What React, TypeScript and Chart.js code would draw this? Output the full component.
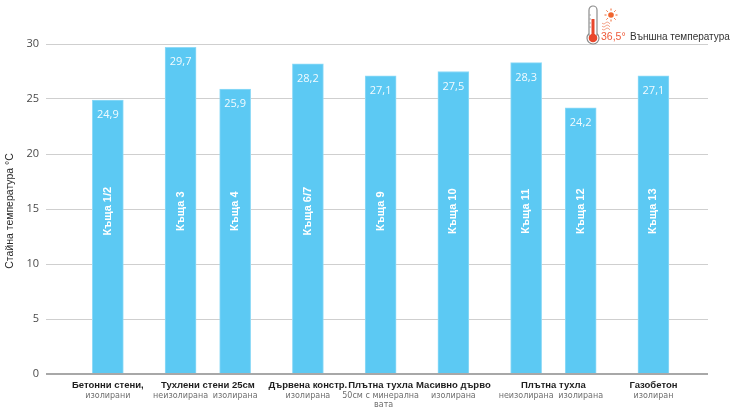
import React, { useEffect, useRef } from 'react';
import { Chart, registerables } from 'chart.js';

Chart.register(...registerables);

// data
const houses = ['Къща 1/2', 'Къща 3', 'Къща 4', 'Къща 6/7', 'Къща 9', 'Къща 10', 'Къща 11', 'Къща 12', 'Къща 13'];
const temps = [24.9, 29.7, 25.9, 28.2, 27.1, 27.5, 28.3, 24.2, 27.1];
const valueLabels = ['24,9', '29,7', '25,9', '28,2', '27,1', '27,5', '28,3', '24,2', '27,1'];
const houseGroup = [0, 1, 1, 2, 3, 4, 5, 5, 6];
const groupNames = ['Бетонни стени,', 'Тухлени стени 25см', 'Дървена констр.', 'Плътна тухла', 'Масивно дърво', 'Плътна тухла', 'Газобетон'];
const houseNotes = [['изолирани'], ['неизолирана'], ['изолирана'], ['изолирана'], ['50см с минерална', 'вата'], ['изолирана'], ['неизолирана'], ['изолирана'], ['изолиран']];
const yTitle = 'Стайна температура °C';
const outsideTemp = '36,5°';
const outsideLabel = 'Външна температура';

// bars sit 4 slots apart between groups, 3 slots apart inside a group
const slots: number[] = [];
houseGroup.forEach((g, i) => {
  slots.push(i === 0 ? 0 : slots[i - 1] + (g === houseGroup[i - 1] ? 3 : 4));
});

const BAR = '#5cc9f3';

const overlay = {
  id: 'overlay',
  afterDatasetsDraw(chart: any) {
    const { ctx, chartArea, scales } = chart;
    const x = scales.x, y = scales.y;
    ctx.save();
    // values + house names inside bars
    temps.forEach((t, i) => {
      const px = x.getPixelForValue(slots[i]);
      const top = y.getPixelForValue(t);
      ctx.fillStyle = 'rgba(255,255,255,0.92)';
      ctx.font = '11px "Open Sans"';
      ctx.textAlign = 'center';
      ctx.textBaseline = 'middle';
      ctx.fillText(valueLabels[i], px, top + 15);
      ctx.save();
      ctx.translate(px, y.getPixelForValue(14.8));
      ctx.rotate(-Math.PI / 2);
      ctx.font = 'bold 11px "Liberation Sans"';
      ctx.fillStyle = '#ffffff';
      ctx.fillText(houses[i], 0, 0);
      ctx.restore();
    });
    // category labels below axis
    const base = chartArea.bottom;
    groupNames.forEach((name, g) => {
      const idx = houseGroup.map((hg, i) => (hg === g ? i : -1)).filter(i => i >= 0);
      const cx = idx.reduce((s, i) => s + x.getPixelForValue(slots[i]), 0) / idx.length;
      ctx.font = 'bold 9.5px "Liberation Sans"';
      ctx.fillStyle = '#1e1e1e';
      ctx.textAlign = 'center';
      ctx.textBaseline = 'middle';
      ctx.fillText(name, cx, base + 11);
    });
    houseNotes.forEach((lines, i) => {
      const px = x.getPixelForValue(slots[i]);
      ctx.font = '8px "DejaVu Sans"';
      ctx.fillStyle = '#6e6e6e';
      lines.forEach((l, k) => ctx.fillText(l, px + (k ? 3 : 0), base + 22 + k * 9));
    });
    // y title
    ctx.save();
    ctx.translate(10, (chartArea.top + chartArea.bottom) / 2 + 2);
    ctx.rotate(-Math.PI / 2);
    ctx.font = '10.5px "Liberation Sans"';
    ctx.fillStyle = '#2a2a2a';
    ctx.textAlign = 'center';
    ctx.textBaseline = 'middle';
    ctx.fillText(yTitle, 0, 0);
    ctx.restore();
    // outside temperature legend: thermometer icon
    const tx = 593, ty = 38;
    ctx.strokeStyle = '#8c8c8c';
    ctx.lineWidth = 1.2;
    ctx.beginPath();
    ctx.moveTo(tx - 4, ty - 4);
    ctx.lineTo(tx - 4, 10);
    ctx.arc(tx, 10, 4, Math.PI, 0);
    ctx.lineTo(tx + 4, ty - 4);
    ctx.arc(tx, ty, 6, -Math.PI / 2 + 0.75, Math.PI * 1.5 - 0.75);
    ctx.closePath();
    ctx.stroke();
    ctx.fillStyle = '#e9472c';
    ctx.beginPath();
    ctx.arc(tx, ty, 4.3, 0, Math.PI * 2);
    ctx.fill();
    ctx.fillRect(tx - 1.5, 19, 3, ty - 19);
    ctx.strokeStyle = '#a8a8a8';
    ctx.lineWidth = 1;
    for (let k = 0; k < 4; k++) {
      ctx.beginPath();
      ctx.moveTo(tx - 4, 15 + k * 4);
      ctx.lineTo(tx - 2, 15 + k * 4);
      ctx.stroke();
    }
    // sun
    ctx.fillStyle = '#f0652f';
    ctx.strokeStyle = '#f0652f';
    ctx.beginPath();
    ctx.arc(611, 15, 2.8, 0, Math.PI * 2);
    ctx.fill();
    for (let k = 0; k < 8; k++) {
      const a = (k * Math.PI) / 4;
      ctx.beginPath();
      ctx.moveTo(611 + Math.cos(a) * 4.5, 15 + Math.sin(a) * 4.5);
      ctx.lineTo(611 + Math.cos(a) * 6.5, 15 + Math.sin(a) * 6.5);
      ctx.stroke();
    }
    // heat waves
    ctx.strokeStyle = '#f3a58c';
    for (let k = 0; k < 3; k++) {
      ctx.beginPath();
      for (let s = 0; s <= 8; s++) {
        const wx = 602 + s;
        const wy = 23 + k * 3 + Math.sin(s * 0.9) * 1;
        if (s === 0) ctx.moveTo(wx, wy); else ctx.lineTo(wx, wy);
      }
      ctx.stroke();
    }
    ctx.textAlign = 'left';
    ctx.textBaseline = 'middle';
    ctx.font = '10.5px "Liberation Sans"';
    ctx.fillStyle = '#ee5a3a';
    ctx.fillText(outsideTemp, 601, 37);
    ctx.font = '10px "Liberation Sans"';
    ctx.fillStyle = '#333333';
    ctx.fillText(outsideLabel, 630, 37);
    ctx.restore();
  },
};

function TempChart() {
  const ref = useRef<HTMLCanvasElement>(null);
  useEffect(() => {
    if (!ref.current) return;
    const chart = new Chart(ref.current, {
      type: 'bar',
      data: {
        datasets: [{
          data: temps.map((t, i) => ({ x: slots[i], y: t })),
          backgroundColor: BAR,
          borderColor: '#8fdaf7',
          borderWidth: 1,
          barThickness: 31,
        }],
      },
      options: {
        responsive: true,
        maintainAspectRatio: false,
        animation: false,
        layout: { padding: { top: 44, bottom: 39, right: 22, left: 0 } },
        plugins: { legend: { display: false }, tooltip: { enabled: false } },
        scales: {
          x: { type: 'linear', min: -3.4, max: 33, offset: false, display: false },
          y: {
            min: 0,
            max: 30,
            ticks: { stepSize: 5, color: '#4a4a4a', font: { family: '"Open Sans"', size: 11 }, padding: 7 },
            border: { display: false },
            grid: {
              drawTicks: false,
              color: (c: any) => (c.tick && c.tick.value === 0 ? '#a8a8a8' : '#cfcfcf'),
              lineWidth: (c: any) => (c.tick && c.tick.value === 0 ? 2 : 1),
            },
            afterFit: (s: any) => { s.width = 46; },
          },
        },
      },
      plugins: [overlay],
    });
    return () => chart.destroy();
  }, []);
  return <canvas ref={ref} />;
}

export default function App() {
  return (
    <div style={{ position: 'fixed', left: 0, top: 0, width: 730, height: 413, background: '#fff' }}>
      <TempChart />
    </div>
  );
}
